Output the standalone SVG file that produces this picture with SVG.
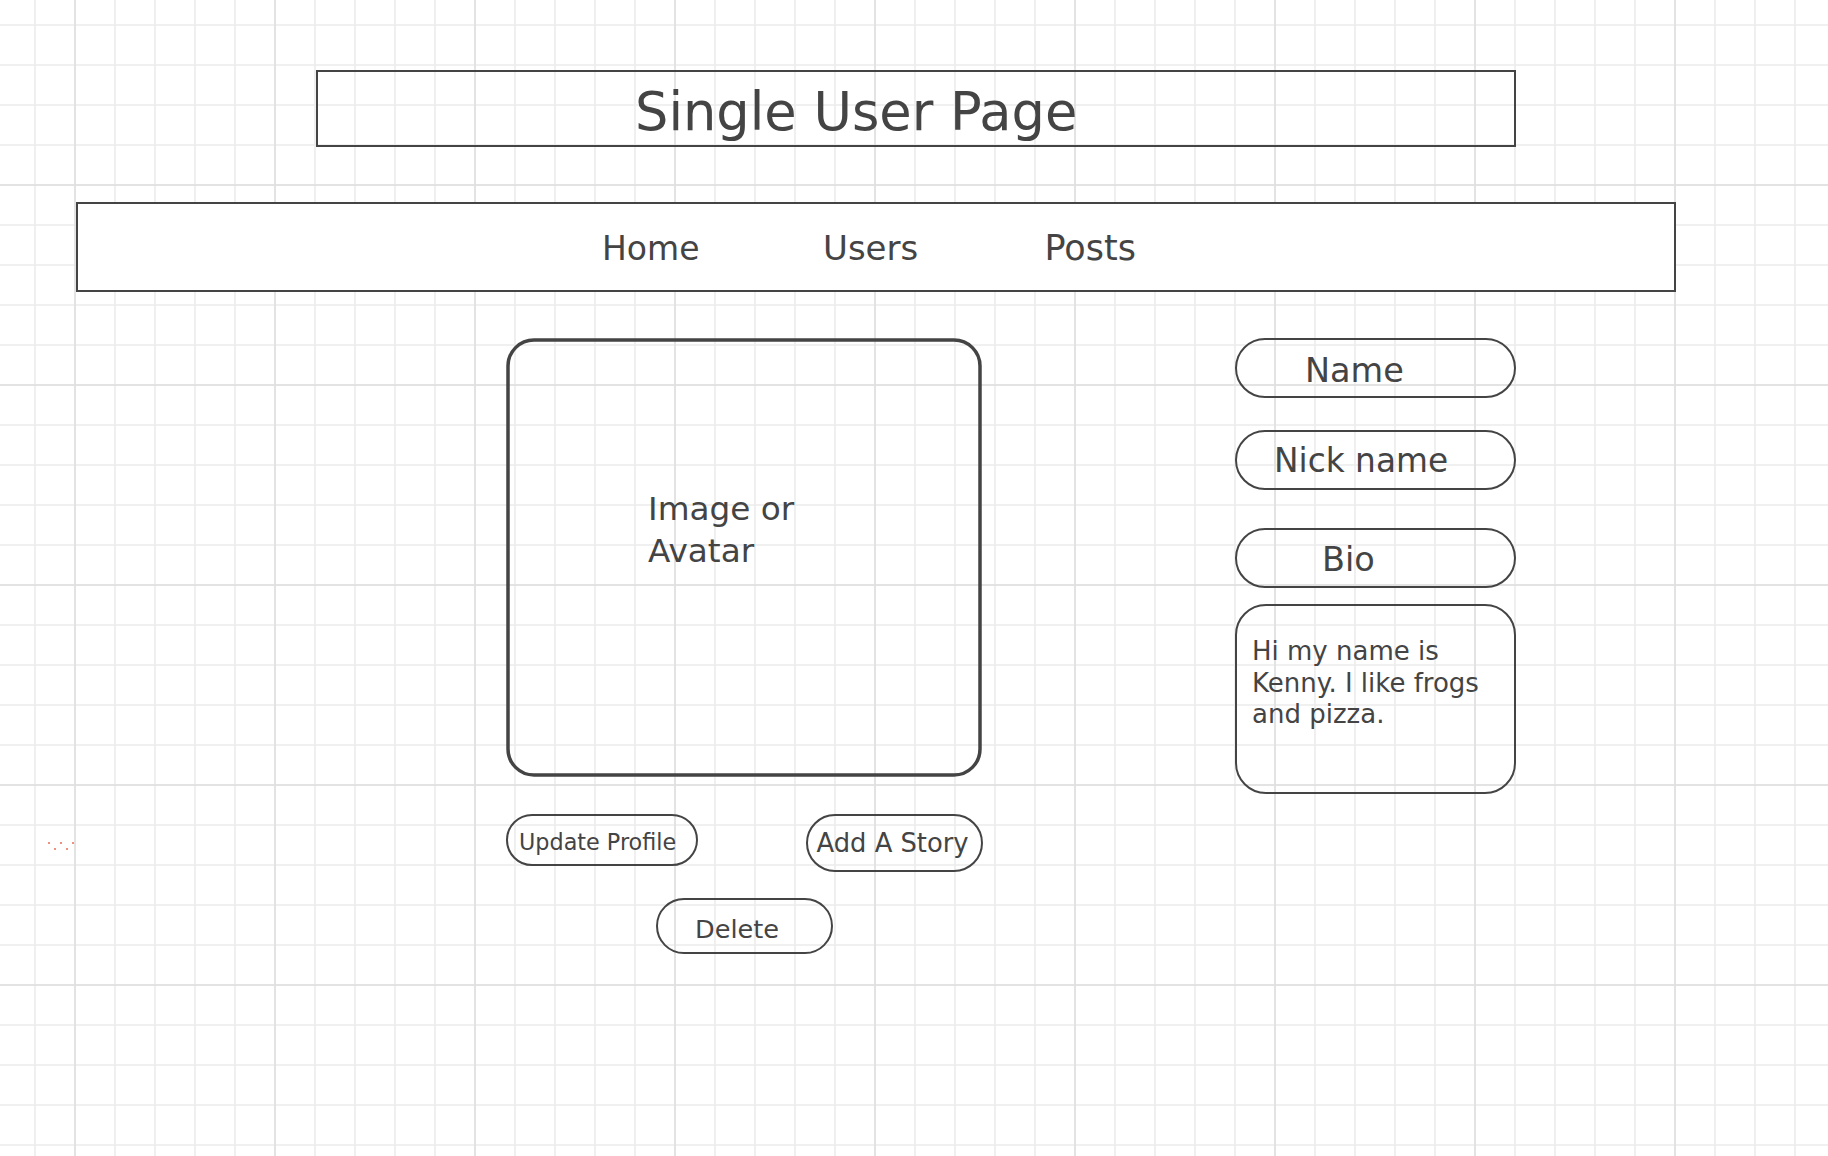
<svg xmlns="http://www.w3.org/2000/svg" width="1828" height="1156" viewBox="0 0 1828 1156">
  <defs>
    <!-- graph-paper background: 40px minor cells, 200px major cells -->
    <pattern id="grid-minor" width="40" height="40" patternUnits="userSpaceOnUse" x="15" y="5">
      <path d="M20 0V40M0 20H40" stroke="#ececec" stroke-width="1.6" fill="none"/>
    </pattern>
    <pattern id="grid-major" width="200" height="200" patternUnits="userSpaceOnUse" x="-25" y="85">
      <path d="M100 0V200M0 100H200" stroke="#e0e0e0" stroke-width="1.6" fill="none"/>
    </pattern>
  </defs>
  <style>
    .box { fill: none; stroke: #444444; stroke-width: 2; }
    .frame { fill: none; stroke: #444444; stroke-width: 3.5; }
    .label { font-family: "DejaVu Sans", "Liberation Sans", sans-serif; fill: #444444; }
  </style>

  <rect width="1828" height="1156" fill="#ffffff"/>
  <rect width="1828" height="1156" fill="url(#grid-minor)"/>
  <rect width="1828" height="1156" fill="url(#grid-major)"/>

  <!-- page heading -->
  <g id="title">
    <rect class="box" x="317" y="71" width="1198" height="75"/>
    <text class="label" x="635" y="129.5" font-size="52.6">Single User Page</text>
  </g>

  <!-- navigation bar -->
  <g id="nav">
    <rect class="box" x="77" y="203" width="1598" height="88" style="fill:#ffffff"/>
    <text class="label" x="602" y="260" font-size="33">Home</text>
    <text class="label" x="823" y="260" font-size="34">Users</text>
    <text class="label" x="1044.5" y="260" font-size="35">Posts</text>
  </g>

  <!-- profile picture placeholder -->
  <g id="avatar">
    <rect class="frame" x="508" y="340" width="472" height="435" rx="26"/>
    <text class="label" font-size="32.7">
      <tspan x="648" y="520">Image or</tspan>
      <tspan x="648" y="561.7">Avatar</tspan>
    </text>
  </g>

  <!-- profile fields -->
  <g id="field-name">
    <rect class="box" x="1236" y="339" width="279" height="58" rx="29"/>
    <text class="label" x="1305" y="381.7" font-size="33.5">Name</text>
  </g>
  <g id="field-nickname">
    <rect class="box" x="1236" y="431" width="279" height="58" rx="29"/>
    <text class="label" x="1274" y="471.7" font-size="32.8">Nick name</text>
  </g>
  <g id="field-bio">
    <rect class="box" x="1236" y="529" width="279" height="58" rx="29"/>
    <text class="label" x="1322" y="570.7" font-size="33.5">Bio</text>
  </g>
  <g id="bio-text">
    <rect class="box" x="1236" y="605" width="279" height="188" rx="30"/>
    <text class="label" font-size="26">
      <tspan x="1252" y="660">Hi my name is</tspan>
      <tspan x="1252" y="691.7">Kenny. I like frogs</tspan>
      <tspan x="1252" y="723.3">and pizza.</tspan>
    </text>
  </g>

  <!-- action buttons -->
  <g id="btn-update-profile">
    <rect class="box" x="507" y="815" width="190" height="50" rx="25"/>
    <text class="label" x="519" y="850" font-size="22.3">Update Profile</text>
  </g>
  <g id="btn-add-story">
    <rect class="box" x="807" y="815" width="175" height="56" rx="28"/>
    <text class="label" x="816.5" y="852.3" font-size="25.8">Add A Story</text>
  </g>
  <g id="btn-delete">
    <rect class="box" x="657" y="899" width="175" height="54" rx="27"/>
    <text class="label" x="695" y="938.3" font-size="25.6">Delete</text>
  </g>

  <!-- stray selection marks -->
  <g id="marks" fill="#f0907f">
    <rect x="48" y="842" width="2" height="2"/>
    <rect x="60" y="842" width="2" height="2"/>
    <rect x="72" y="842" width="2" height="2"/>
    <rect x="54" y="848" width="2" height="2"/>
    <rect x="66" y="848" width="2" height="2"/>
  </g>
</svg>
